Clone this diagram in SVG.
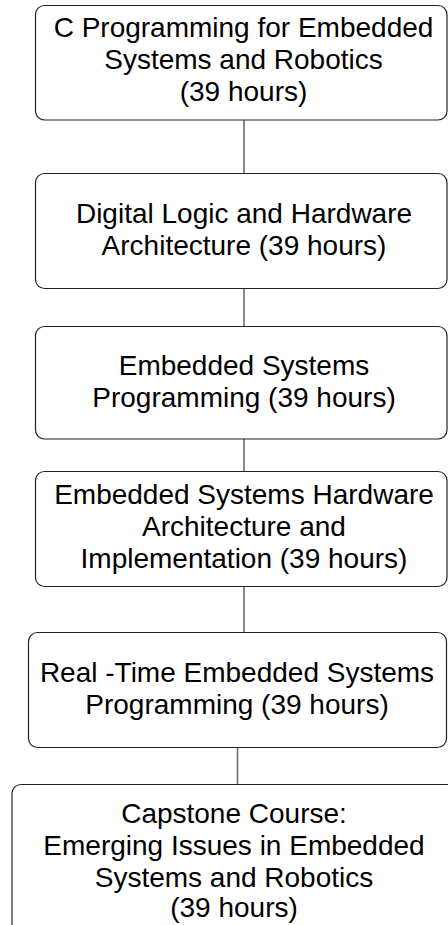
<svg xmlns="http://www.w3.org/2000/svg" width="448" height="925" viewBox="0 0 448 925">
<style>
.box{fill:#fff;stroke:#222;stroke-width:1.2}
.t{font-family:"Liberation Sans",Arial,sans-serif;font-size:28px;fill:#000;text-anchor:middle}
.c{stroke:#6e6e6e;stroke-width:1.6;fill:none}
</style>
<rect width="448" height="925" fill="#fff"/>
<g id="connectors">
<line class="c" x1="244" y1="120" x2="244" y2="173.5"/>
<line class="c" x1="244" y1="288.5" x2="244" y2="326.5"/>
<line class="c" x1="244" y1="439" x2="244" y2="471.5"/>
<line class="c" x1="244" y1="586.5" x2="244" y2="632.5"/>
<line class="c" x1="237.5" y1="747.5" x2="237.5" y2="784.5"/>
</g>
<g id="n1">
<rect class="box" x="35.5" y="5.5" width="411.5" height="114.5" rx="9"/>
<text class="t" x="243.5" y="36.5">C Programming for Embedded</text>
<text class="t" x="243.5" y="68.7">Systems and Robotics</text>
<text class="t" x="243.5" y="100.9">(39 hours)</text>
</g>
<g id="n2">
<rect class="box" x="35.5" y="173.5" width="411.5" height="115" rx="9"/>
<text class="t" x="244" y="223">Digital Logic and Hardware</text>
<text class="t" x="244" y="255">Architecture (39 hours)</text>
</g>
<g id="n3">
<rect class="box" x="35.5" y="326.5" width="411.5" height="112.5" rx="9"/>
<text class="t" x="244" y="374.5">Embedded Systems</text>
<text class="t" x="244" y="407">Programming (39 hours)</text>
</g>
<g id="n4">
<rect class="box" x="35.5" y="471.5" width="411.5" height="115" rx="9"/>
<text class="t" x="244" y="503.5">Embedded Systems Hardware</text>
<text class="t" x="244" y="536">Architecture and</text>
<text class="t" x="244" y="568">Implementation (39 hours)</text>
</g>
<g id="n5">
<rect class="box" x="28.5" y="632.5" width="418" height="115" rx="9"/>
<text class="t" x="237" y="682">Real -Time Embedded Systems</text>
<text class="t" x="237" y="714">Programming (39 hours)</text>
</g>
<g id="n6">
<rect class="box" x="12" y="784.5" width="450" height="160" rx="9"/>
<text class="t" x="234" y="823">Capstone Course:</text>
<text class="t" x="234" y="855">Emerging Issues in Embedded</text>
<text class="t" x="234" y="887">Systems and Robotics</text>
<text class="t" x="234" y="917">(39 hours)</text>
</g>
</svg>
